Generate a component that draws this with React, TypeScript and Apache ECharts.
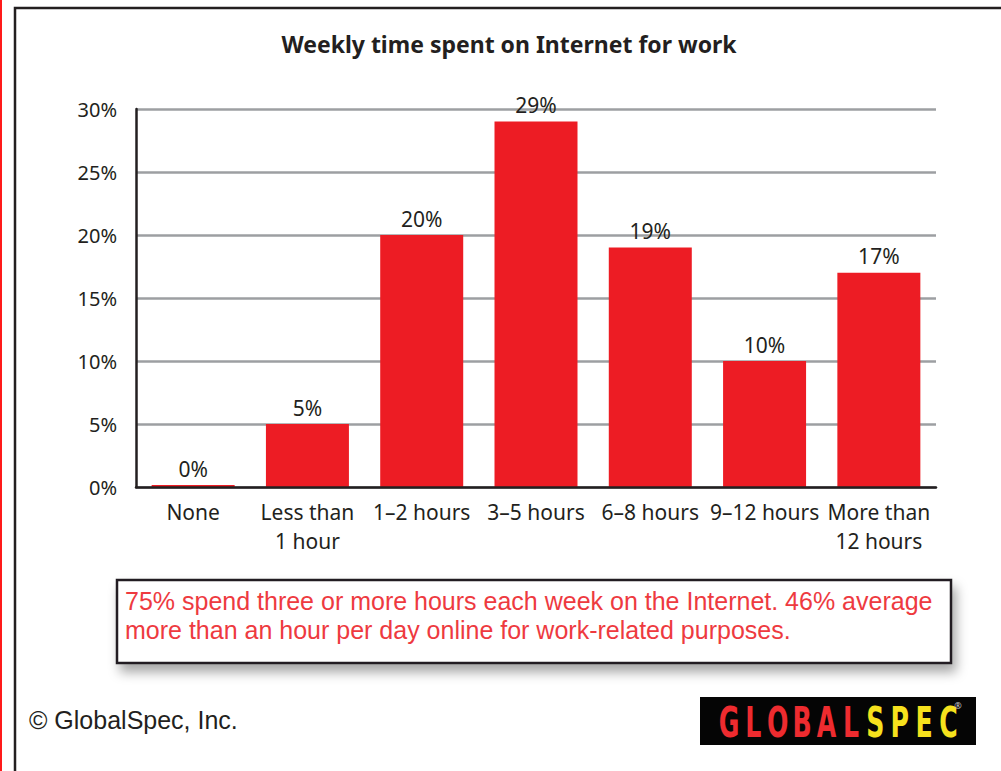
import React, { useEffect, useRef } from "react";
import * as echarts from "echarts";

const categories = ["None", "Less than\n1 hour", "1–2 hours", "3–5 hours", "6–8 hours", "9–12 hours", "More than\n12 hours"];
const shares = [0, 5, 20, 29, 19, 10, 17];
const yTicks = { min: 0, max: 30, interval: 5 };
const titleText = "Weekly time spent on Internet for work";
const noteLines = [
  "75% spend three or more hours each week on the Internet. 46% average",
  "more than an hour per day online for work-related purposes.",
];
const copyrightText = "© GlobalSpec, Inc.";
const logoRed = ["G", "L", "O", "B", "A", "L"];
const logoYellow = ["S", "P", "E", "C"];

const FONT = "'Noto Sans', 'Open Sans', sans-serif";
const HELV = "'Liberation Sans', Arial, sans-serif";
const DARK = "#231f20";
const RED = "#ed1c24";

export default function App() {
  const ref = useRef<HTMLDivElement>(null);
  useEffect(() => {
    if (!ref.current) return;
    const chart = echarts.init(ref.current, null, { renderer: "svg" });
    const letters = [...logoRed.map((l) => ({ l, c: "#ee2b2f" })), ...logoYellow.map((l) => ({ l, c: "#f6e11d" }))];
    const logoEls: any[] = letters.map((o, i) => ({
      type: "text",
      x: 729 + i * 24.4,
      y: 722,
      scaleX: 0.6,
      style: {
        text: o.l,
        fill: o.c,
        font: "bold 42px 'DejaVu Sans', sans-serif",
        textAlign: "center",
        textVerticalAlign: "middle",
      },
      z: 12,
    }));
    chart.setOption({
      animation: false,
      backgroundColor: "#ffffff",
      grid: { left: 136, top: 109, width: 800, height: 378, containLabel: false },
      xAxis: {
        type: "category",
        data: categories,
        axisLine: { show: true, lineStyle: { color: DARK, width: 2.5 } },
        axisTick: { show: false },
        axisLabel: { interval: 0, fontSize: 21, lineHeight: 29, color: DARK, margin: 10, fontFamily: FONT },
        z: 5,
      },
      yAxis: {
        type: "value",
        min: yTicks.min,
        max: yTicks.max,
        interval: yTicks.interval,
        axisLine: { show: true, lineStyle: { color: DARK, width: 2.5 } },
        axisTick: { show: false },
        axisLabel: { formatter: "{value}%", fontSize: 20, color: DARK, margin: 19, fontFamily: FONT },
        splitLine: { show: true, lineStyle: { color: "#9d9fa2", width: 2.5 } },
      },
      series: [
        {
          type: "bar",
          data: shares,
          barWidth: 83,
          barMinHeight: 2,
          itemStyle: { color: RED },
          label: {
            show: true,
            position: "top",
            formatter: "{c}%",
            fontSize: 21,
            color: DARK,
            distance: 6,
            fontFamily: FONT,
          },
          z: 3,
        },
      ],
      graphic: [
        { type: "rect", shape: { x: 0, y: 0, width: 2, height: 771 }, style: { fill: "#ff1a1a" }, z: 10 },
        {
          type: "polyline",
          shape: { points: [[15, 775], [15, 8], [1005, 8]] },
          style: { stroke: "#231f20", lineWidth: 2.5, fill: "none" },
          z: 10,
        },
        {
          type: "text",
          x: 509,
          y: 44,
          style: {
            text: titleText,
            font: `bold 23px ${FONT}`,
            fill: DARK,
            textAlign: "center",
            textVerticalAlign: "middle",
          },
        },
        {
          type: "rect",
          shape: { x: 117, y: 580, width: 834, height: 83 },
          style: {
            fill: "#ffffff",
            stroke: "#231f20",
            lineWidth: 2.5,
            shadowBlur: 12,
            shadowOffsetX: 4,
            shadowOffsetY: 8,
            shadowColor: "rgba(0,0,0,0.35)",
          },
          z: 10,
        },
        ...noteLines.map((t, i) => ({
          type: "text",
          x: 125,
          y: 601 + i * 29,
          style: {
            text: t,
            font: `25px ${HELV}`,
            fill: "#ee3a3f",
            textVerticalAlign: "middle",
          },
          z: 11,
        })),
        {
          type: "text",
          x: 29,
          y: 720,
          style: { text: copyrightText, font: `25px ${HELV}`, fill: DARK, textVerticalAlign: "middle" },
        },
        { type: "rect", shape: { x: 700, y: 697, width: 276, height: 48 }, style: { fill: "#050505" }, z: 11 },
        ...logoEls,
        {
          type: "text",
          x: 958,
          y: 705,
          style: { text: "®", font: `9px ${FONT}`, fill: "#cccccc", textAlign: "center", textVerticalAlign: "middle" },
          z: 12,
        },
      ],
    });
    return () => chart.dispose();
  }, []);
  return <div ref={ref} style={{ position: "fixed", left: 0, top: 0, width: 1001, height: 771 }} />;
}
